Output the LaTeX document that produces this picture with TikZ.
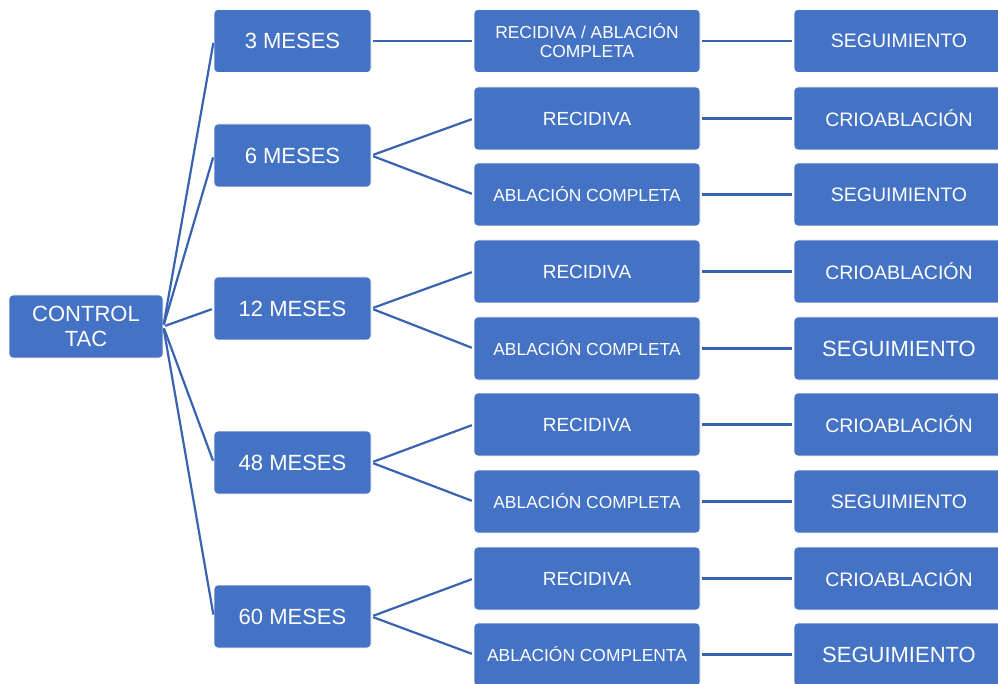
\documentclass[tikz,border=0pt]{standalone}
\usepackage{fontspec}
\setmainfont{Liberation Sans}
\definecolor{boxblue}{HTML}{4472C4}
\definecolor{linkblue}{HTML}{3763B0}
\begin{document}
\begin{tikzpicture}[x=1pt,y=-1pt,
  box/.style={draw=white, line width=0.6pt, fill=boxblue, rounded corners=4pt, text=white, align=center, inner sep=0pt, minimum height=63pt},
  rootbox/.style={box, minimum width=154pt, font=\fontsize{22}{25}\selectfont},
  timebox/.style={box, minimum width=157pt, font=\fontsize{22}{25}\selectfont},
  resbox/.style={box, minimum width=226pt, font=\fontsize{17.4}{19}\selectfont},
  resbig/.style={box, minimum width=226pt, font=\fontsize{19}{21}\selectfont},
  actbox/.style={box, minimum width=210pt, font=\fontsize{19.5}{22}\selectfont},
  actbig/.style={box, minimum width=210pt, font=\fontsize{22}{25}\selectfont},
  link/.style={draw=linkblue, line width=2.2pt, shorten <=2pt, shorten >=2pt}
]
\useasboundingbox (0,0) rectangle (998,684);
\clip (0,0) rectangle (998,684);

\node[rootbox] (root) at (86,326.5) {CONTROL\\TAC};

\node[timebox] (t3) at (292.5,41) {3 MESES};
\node[timebox] (t6) at (292.5,155.5) {6 MESES};
\node[timebox] (t12) at (292.5,308.5) {12 MESES};
\node[timebox] (t48) at (292.5,462.5) {48 MESES};
\node[timebox] (t60) at (292.5,616.5) {60 MESES};

\node[resbox] (r1) at (587,41) {RECIDIVA / ABLACIÓN\\COMPLETA};
\node[resbig] (r2) at (587,118.5) {RECIDIVA};
\node[resbox] (r3) at (587,194.5) {ABLACIÓN COMPLETA};
\node[resbig] (r4) at (587,271.5) {RECIDIVA};
\node[resbox] (r5) at (587,348.5) {ABLACIÓN COMPLETA};
\node[resbig] (r6) at (587,424.5) {RECIDIVA};
\node[resbox] (r7) at (587,501.5) {ABLACIÓN COMPLETA};
\node[resbig] (r8) at (587,578.5) {RECIDIVA};
\node[resbox] (r9) at (587,654.5) {ABLACIÓN COMPLENTA};

\node[actbox] (a1) at (899,41) {SEGUIMIENTO};
\node[actbox] (a2) at (899,118.5) {CRIOABLACIÓN};
\node[actbox] (a3) at (899,194.5) {SEGUIMIENTO};
\node[actbox] (a4) at (899,271.5) {CRIOABLACIÓN};
\node[actbig] (a5) at (899,348.5) {SEGUIMIENTO};
\node[actbox] (a6) at (899,424.5) {CRIOABLACIÓN};
\node[actbox] (a7) at (899,501.5) {SEGUIMIENTO};
\node[actbox] (a8) at (899,578.5) {CRIOABLACIÓN};
\node[actbig] (a9) at (899,654.5) {SEGUIMIENTO};

\foreach \t in {t3,t6,t12,t48,t60} \draw[link] (root.east) -- (\t.west);
\draw[link] (t3.east) -- (r1.west);
\draw[link] (t6.east) -- (r2.west);
\draw[link] (t6.east) -- (r3.west);
\draw[link] (t12.east) -- (r4.west);
\draw[link] (t12.east) -- (r5.west);
\draw[link] (t48.east) -- (r6.west);
\draw[link] (t48.east) -- (r7.west);
\draw[link] (t60.east) -- (r8.west);
\draw[link] (t60.east) -- (r9.west);
\foreach \i in {1,...,9} \draw[link] (r\i.east) -- (a\i.west);
\end{tikzpicture}
\end{document}
